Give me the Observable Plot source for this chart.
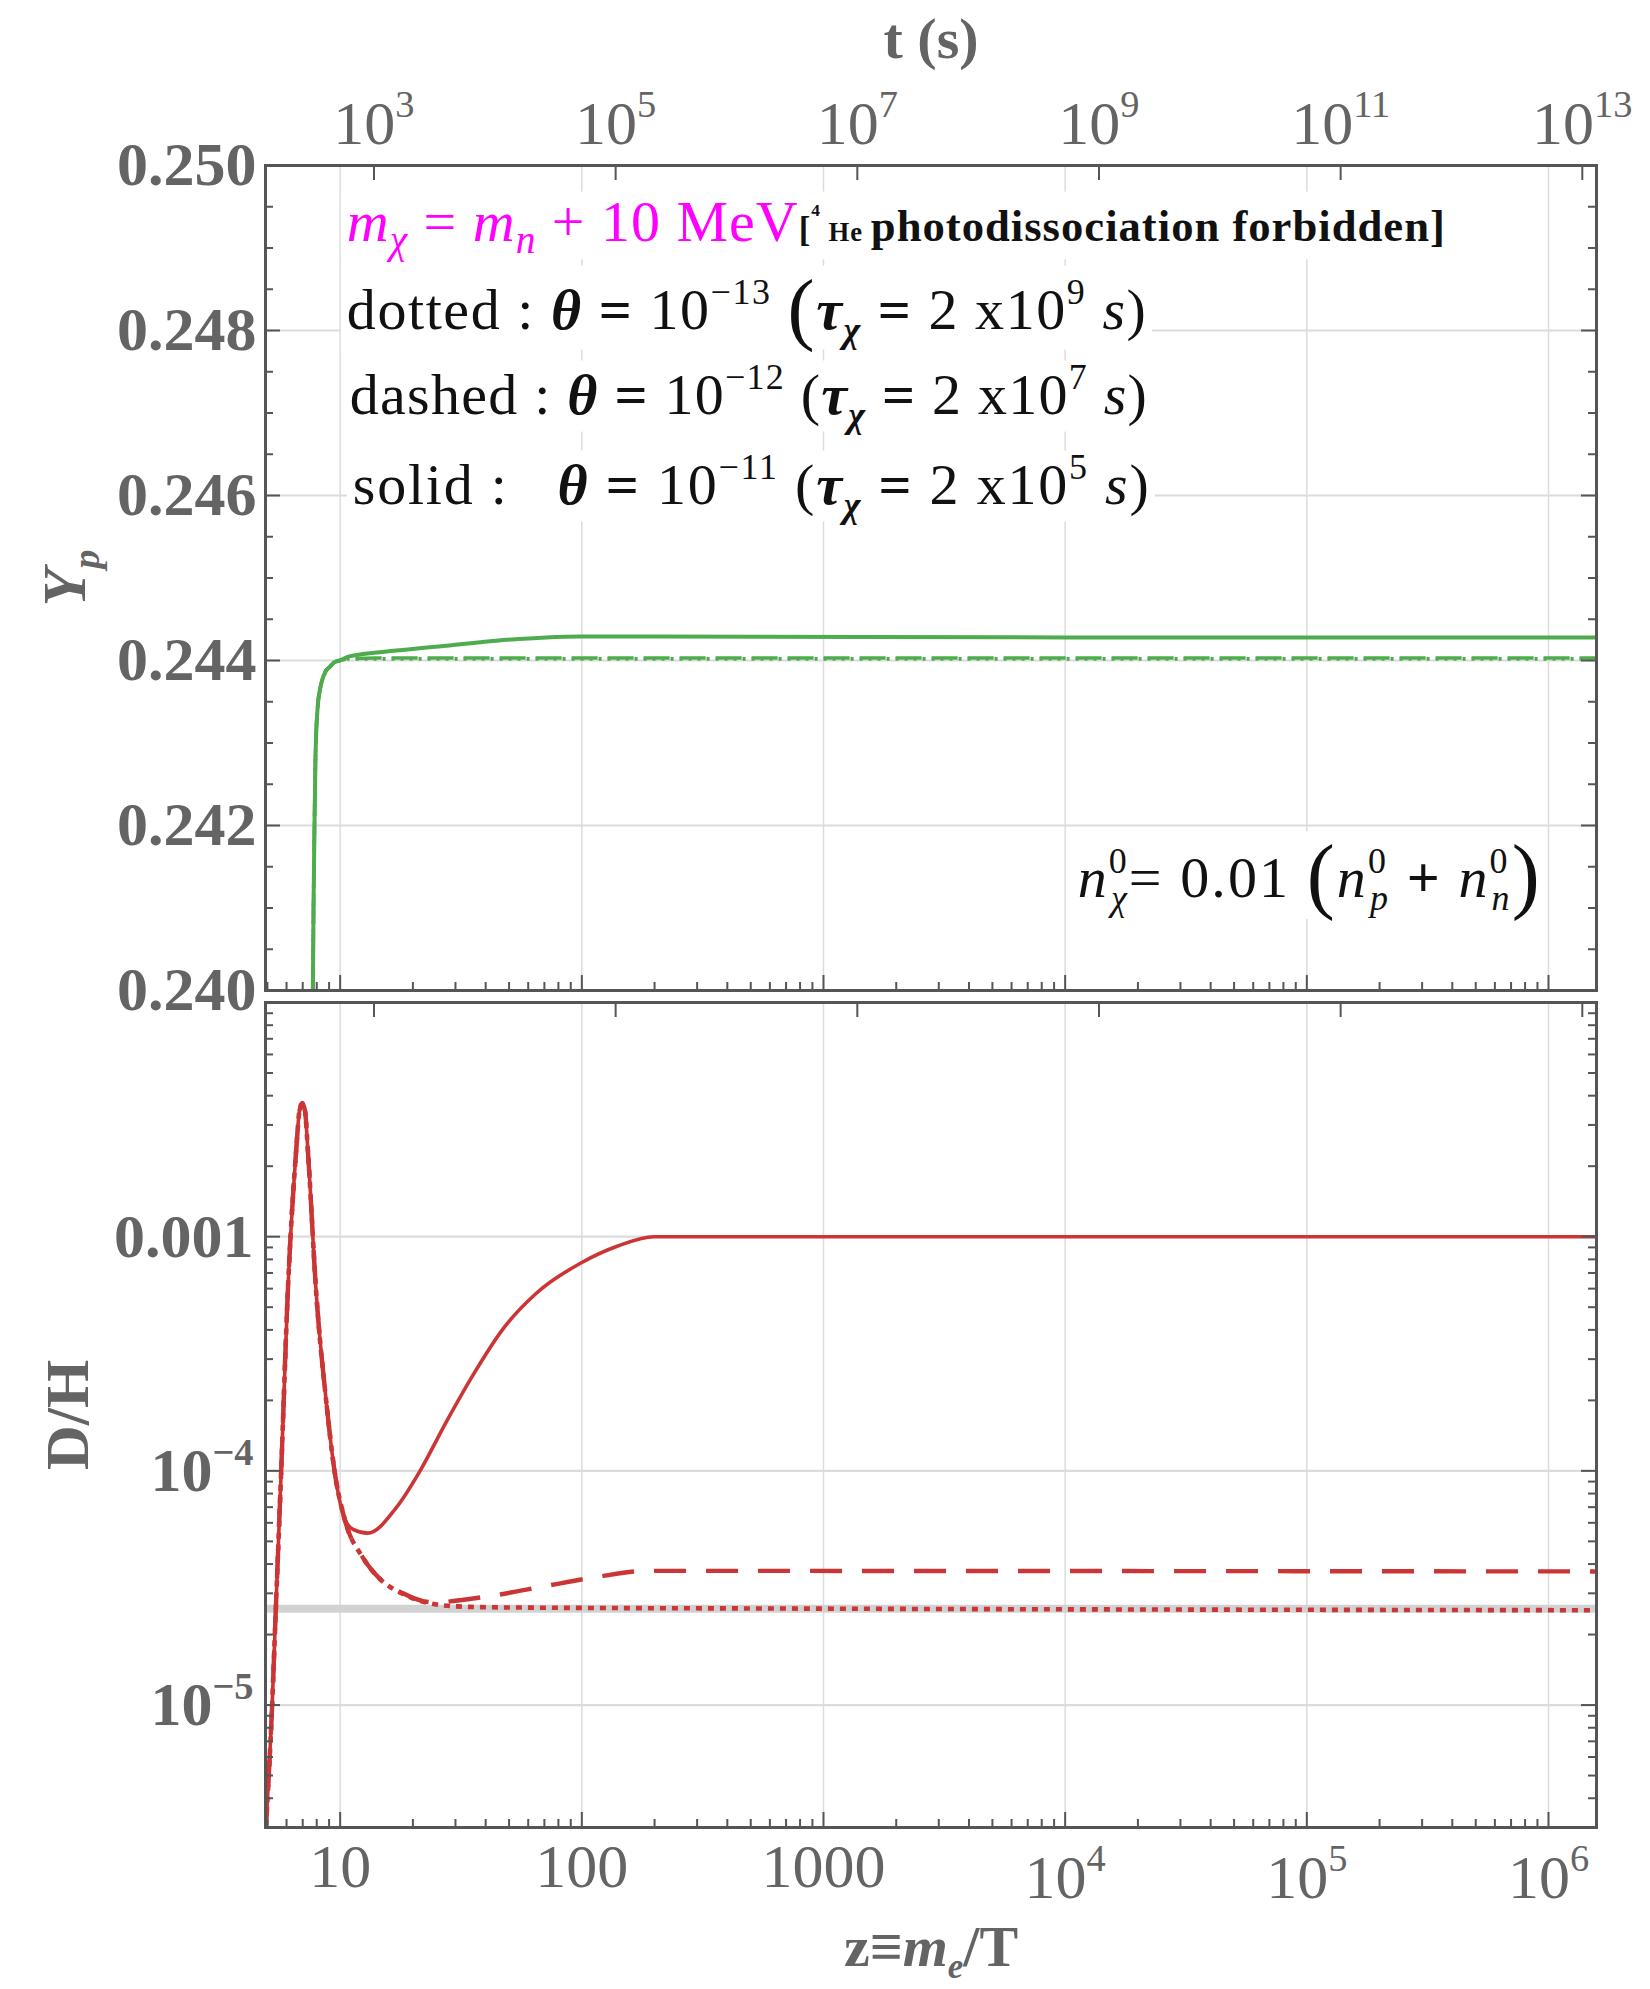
<!DOCTYPE html>
<html>
<head>
<meta charset="utf-8">
<script src="https://cdn.jsdelivr.net/npm/d3@7"></script>
<script src="https://cdn.jsdelivr.net/npm/@observablehq/plot@0.6"></script>
<style>
html, body { margin: 0; padding: 0; background: #fff; }
#fig { position: relative; width: 1650px; height: 1989px; background: #fff; overflow: hidden; }
#fig svg { position: absolute; left: 0; }
</style>
</head>
<body>
<div id="fig"></div>
<script>
// ---------------- data ----------------
// top panel: helium mass fraction Y_p versus z = m_e/T
const zYpSolid = [7.60, 7.71, 7.76, 7.83, 7.91, 8.09, 8.22, 8.35, 8.75, 9.04, 9.48, 9.94, 10.9, 17.1, 27.5, 44.2, 71.1, 99.3, 198, 1.0e4, 1.6e6];
const YpSolid  = [0.2395, 0.24001, 0.24101, 0.24200, 0.24287, 0.24347, 0.24362, 0.24372, 0.24388, 0.24392, 0.24398, 0.24400, 0.24405, 0.24412, 0.24418, 0.24424, 0.24428, 0.24429, 0.24429, 0.24428, 0.24428];
const zYpDashed = [7.60, 7.71, 7.76, 7.83, 7.91, 8.09, 8.22, 8.35, 8.75, 9.04, 9.48, 9.94, 10.9, 14, 1.6e6];
const YpDashed  = [0.2395, 0.24001, 0.24101, 0.24200, 0.24287, 0.24347, 0.24362, 0.24372, 0.24388, 0.24392, 0.24398, 0.24400, 0.24402, 0.24403, 0.24403];
const zYpDotted = [7.60, 7.71, 7.76, 7.83, 7.91, 8.09, 8.22, 8.35, 8.75, 9.04, 9.48, 9.94, 10.9, 14, 1.6e6];
const YpDotted  = [0.2395, 0.24001, 0.24101, 0.24200, 0.24287, 0.24347, 0.24362, 0.24372, 0.24388, 0.24392, 0.24398, 0.24400, 0.24402, 0.24402, 0.24402];

// bottom panel: D/H versus z
const zDHSolid = [4.90, 5.23, 5.42, 5.70, 6.07, 6.58, 6.79, 6.97, 7.15, 7.35, 7.96, 8.75, 9.49, 10.4, 11.3, 13.0, 17.1, 21.3, 27.5, 35.5, 47.3, 65, 100, 140, 199, 1.6e6];
const DHSolid  = [2.7e-6, 1.0e-5, 2.6e-5, 9.9e-5, 5.75e-4, 2.35e-3, 3.46e-3, 3.71e-3, 3.46e-3, 2.35e-3, 5.75e-4, 2.0e-4, 9.9e-5, 6.3e-5, 5.62e-5, 5.42e-5, 6.98e-5, 9.9e-5, 1.62e-4, 2.57e-4, 4.05e-4, 5.75e-4, 7.76e-4, 9.1e-4, 1.0e-3, 1.0e-3];
const zDHDashed = [4.90, 5.23, 5.42, 5.70, 6.07, 6.58, 6.79, 6.97, 7.15, 7.35, 7.96, 8.75, 9.49, 10.4, 12.4, 14.6, 18.2, 22, 25.5, 30, 44.4, 71.6, 115, 186, 1.6e6];
const DHDashed  = [2.7e-6, 1.0e-5, 2.6e-5, 9.9e-5, 5.75e-4, 2.35e-3, 3.46e-3, 3.71e-3, 3.46e-3, 2.35e-3, 5.75e-4, 2.0e-4, 9.9e-5, 6.3e-5, 4.27e-5, 3.46e-5, 3.0e-5, 2.78e-5, 2.74e-5, 2.79e-5, 2.95e-5, 3.23e-5, 3.52e-5, 3.74e-5, 3.72e-5];
const zDHDotted = [4.90, 5.23, 5.42, 5.70, 6.07, 6.58, 6.79, 6.97, 7.15, 7.35, 7.96, 8.75, 9.49, 10.4, 12.4, 14.6, 18.2, 23.5, 32.3, 50, 1000, 1.6e6];
const DHDotted  = [2.7e-6, 1.0e-5, 2.6e-5, 9.9e-5, 5.75e-4, 2.35e-3, 3.46e-3, 3.71e-3, 3.46e-3, 2.35e-3, 5.75e-4, 2.0e-4, 9.9e-5, 6.3e-5, 4.27e-5, 3.46e-5, 2.98e-5, 2.72e-5, 2.63e-5, 2.61e-5, 2.58e-5, 2.54e-5];
const DHObserved = [2.58e-5];

// ticks and labels
const zMajor = [10, 100, 1000, 1e4, 1e5, 1e6];
const zMajorLabels = ["10", "100", "1000", "10^{4}", "10^{5}", "10^{6}"];
const tMajor = [1e3, 1e5, 1e7, 1e9, 1e11, 1e13];
const tMajorLabels = ["10^{3}", "10^{5}", "10^{7}", "10^{9}", "10^{11}", "10^{13}"];
const YpTicks = [0.240, 0.242, 0.244, 0.246, 0.248, 0.250];
const YpTickLabels = ["0.240", "0.242", "0.244", "0.246", "0.248", "0.250"];
const YpGrid = [0.242, 0.244, 0.246, 0.248];
const DHTicks = [1e-3, 1e-4, 1e-5];
const DHTickLabels = ["0.001", "10^{−4}", "10^{−5}"];

// legend text content
const legendNames = ["dotted : ", "dashed : ", "solid :   "];
const thetaExps = ["−13", "−12", "−11"];
const tauExps = ["9", "7", "5"];

// ---------------- styling / layout ----------------
const GREEN = "#4eac4e", RED = "#cc3535", GRAY = "#646464", FRAME = "#555555", GRID = "#dcdcdc", MAG = "#ff00ff", INK = "#111111";
const FONT = "'Liberation Serif', 'Times New Roman', 'DejaVu Serif', serif";
const W = 1650;
const frameLeft = 265, frameRight = 1596;
const top1 = 165, bottom1 = 990, svg1H = 1020;
const svg2Top = 995, top2 = 1002, bottom2 = 1827, svg2H = 1989 - svg2Top;
const zDomain = [4.91, 1.58e6];
const tPerZ2 = 5.25;                       // t (s) ~ 5.25 z^2
const zOfT = t => Math.sqrt(t / tPerZ2);

const zLabelOf = new Map(zMajor.map((z, i) => [z, zMajorLabels[i]]));
const tTicksZ = tMajor.map(zOfT);
const tLabelOf = new Map(tTicksZ.map((z, i) => [z, tMajorLabels[i]]));
const YpLabelOf = new Map(YpTicks.map((v, i) => [v, YpTickLabels[i]]));
const DHLabelOf = new Map(DHTicks.map((v, i) => [v, DHTickLabels[i]]));
const zPlain = zMajor.filter(z => !zLabelOf.get(z).includes("^"));
const zPow = zMajor.filter(z => zLabelOf.get(z).includes("^"));

const zMinor = [];
for (let e = 0; e <= 6; e++) for (let m = 2; m <= 9; m++) { const v = m * 10 ** e; if (v > zDomain[0] && v < zDomain[1]) zMinor.push(v); }
const YpMinor = d3.range(0, 21).map(i => 0.240 + i * 0.0005).filter(v => Math.abs((v - 0.240) / 0.002 - Math.round((v - 0.240) / 0.002)) > 1e-6);
const DHMajorTicks = [1e-5, 1e-4, 1e-3, 1e-2];
const DHMinor = [];
for (let e = -6; e <= -3; e++) for (let m = 2; m <= 9; m++) { const v = m * 10 ** e; if (v > 3e-6 && v < 1e-2) DHMinor.push(v); }

const rows = (zs, vs) => zs.map((z, i) => ({z, v: vs[i]}));

// annotation anchors (data units: z, y-value) and fitted widths
const annoAt = {L1: [10.66, 0.24909], L2: [10.66, 0.24802], L3: [10.97, 0.24699], L4: [11.28, 0.24590], N: [11270, 0.24113]};
const annoFit = {L1: 1098, L2: 799, L3: 797, L4: 796, N: 462};

function thetaLine(name, eTheta, eTau, big) {
  return [
    {t: name}, {t: "θ", b: 1, i: 1}, {t: " = ", b: 1}, {t: "10"}, {t: eTheta, sup: 1}, {t: " "},
    big ? {t: "(", k: 1.4, drop: 0.1} : {t: "("},
    {t: "τ", b: 1, i: 1}, {t: "χ", b: 1, i: 1, sub: 1}, {t: " = ", b: 1}, {t: "2 x10"}, {t: eTau, sup: 1},
    {t: " "}, {t: "s", i: 1}, {t: ")"}
  ];
}
const segsById = {
  L1: [
    {t: "m", i: 1, fill: MAG}, {t: "χ", i: 1, sub: 1, k: 0.68, fill: MAG}, {t: " = ", fill: MAG},
    {t: "m", i: 1, fill: MAG}, {t: "n", i: 1, sub: 1, k: 0.68, fill: MAG}, {t: " + 10 MeV", fill: MAG},
    {t: "[", b: 1, k: 0.6, fill: INK}, {t: "4", b: 1, sup: 1, k: 0.3, fill: INK}, {t: " He ", b: 1, k: 0.46, fill: INK},
    {t: "photodissociation forbidden]", b: 1, k: 0.77, fill: INK}
  ],
  L2: thetaLine(legendNames[0], thetaExps[0], tauExps[0], true),
  L3: thetaLine(legendNames[1], thetaExps[1], tauExps[1], false),
  L4: thetaLine(legendNames[2], thetaExps[2], tauExps[2], false),
  N: [
    {t: "n", i: 1}, {t: "0", sup: 1, stack: 1}, {t: "χ", i: 1, sub: 1}, {t: "= 0.01 "},
    {t: "(", k: 1.45, drop: 0.1}, {t: "n", i: 1}, {t: "0", sup: 1, stack: 1}, {t: "p", i: 1, sub: 1},
    {t: " + ", b: 1}, {t: "n", i: 1}, {t: "0", sup: 1, stack: 1}, {t: "n", i: 1, sub: 1}, {t: ")", k: 1.45, drop: 0.1}
  ],
  YP: [{t: "Y", i: 1, b: 1}, {t: "p", i: 1, b: 1, sub: 1}],
  ZL: [{t: "z≡", b: 1}, {t: "m", i: 1, b: 1}, {t: "e", i: 1, b: 1, sub: 1, k: 0.6}, {t: "/T", b: 1}]
};

// ---------------- helpers ----------------
function edgeTicks(H, Wd, yMajor, yMinor) {
  const s = {stroke: FRAME, strokeWidth: 2};
  return [
    Plot.tickX(zMajor, {...s, insetTop: H - 15}),
    Plot.tickX(zMinor, {...s, insetTop: H - 8}),
    Plot.tickX(tTicksZ, {...s, insetBottom: H - 15}),
    Plot.tickY(yMajor, {...s, insetRight: Wd - 15}),
    Plot.tickY(yMinor, {...s, insetRight: Wd - 8}),
    Plot.tickY(yMajor, {...s, insetLeft: Wd - 15}),
    Plot.tickY(yMinor, {...s, insetLeft: Wd - 8})
  ];
}
const lineOpts = (stroke, width, dash) => ({x: "z", y: "v", stroke, strokeWidth: width, curve: "monotone-x", clip: true,
  ...(dash ? {strokeDasharray: dash, strokeLinecap: "butt"} : {})});

const Wd = frameRight - frameLeft;
const H1 = bottom1 - top1, H2 = bottom2 - top2;

const plotTop = Plot.plot({
  width: W, height: svg1H,
  marginLeft: frameLeft, marginRight: W - frameRight, marginTop: top1, marginBottom: svg1H - bottom1,
  x: {type: "log", domain: zDomain, axis: null},
  y: {domain: [0.240, 0.250], axis: null},
  style: {fontFamily: FONT, background: "transparent", color: GRAY},
  marks: [
    Plot.ruleX(zMajor, {stroke: GRID, strokeWidth: 1.5}),
    Plot.ruleY(YpGrid, {stroke: GRID, strokeWidth: 2.2}),
    Plot.line(rows(zYpDotted, YpDotted), lineOpts(GREEN, 3.6, "3,6")),
    Plot.line(rows(zYpDashed, YpDashed), lineOpts(GREEN, 3.6, "26,10")),
    Plot.line(rows(zYpSolid, YpSolid), lineOpts(GREEN, 4)),
    ...edgeTicks(H1, Wd, YpTicks, YpMinor),
    Plot.frame({stroke: FRAME, strokeWidth: 3}),
    Plot.axisY(YpTicks, {anchor: "left", tickSize: 0, tickPadding: 9, tickFormat: d => YpLabelOf.get(d), fontSize: 62, fontWeight: "bold", fontFamily: FONT, color: GRAY, label: null}),
    Plot.axisX(tTicksZ, {anchor: "top", tickSize: 0, tickPadding: 22, tickFormat: z => tLabelOf.get(z), fontSize: 62, fontFamily: FONT, color: GRAY, label: null}),
    Plot.text(["t (s)"], {text: d => d, frameAnchor: "top", dy: -108, lineAnchor: "bottom", fontSize: 58, fontWeight: "bold", fontFamily: FONT, fill: GRAY}),
    Plot.text(["YP"], {text: d => d, frameAnchor: "left", textAnchor: "middle", dx: -200, rotate: -90, fontSize: 62, fontFamily: FONT, fill: GRAY}),
    Plot.text(["L1", "L2", "L3", "L4", "N"], {x: id => annoAt[id][0], y: id => annoAt[id][1], text: d => d, textAnchor: "start", lineAnchor: "bottom", fontSize: 58, fontFamily: FONT, fill: INK})
  ]
});

const plotBottom = Plot.plot({
  width: W, height: svg2H,
  marginLeft: frameLeft, marginRight: W - frameRight, marginTop: top2 - svg2Top, marginBottom: 1989 - bottom2,
  x: {type: "log", domain: zDomain, axis: null},
  y: {type: "log", domain: [3e-6, 1e-2], axis: null},
  style: {fontFamily: FONT, background: "transparent", color: GRAY},
  marks: [
    Plot.ruleX(zMajor, {stroke: GRID, strokeWidth: 1.5}),
    Plot.ruleY(DHTicks, {stroke: GRID, strokeWidth: 2.2}),
    Plot.ruleY(DHObserved, {stroke: "#d2d2d2", strokeWidth: 8}),
    Plot.line(rows(zDHDotted, DHDotted), lineOpts(RED, 4.6, "6,6")),
    Plot.line(rows(zDHDashed, DHDashed), lineOpts(RED, 4.4, "32,20")),
    Plot.line(rows(zDHSolid, DHSolid), lineOpts(RED, 3.6)),
    ...edgeTicks(H2, Wd, DHMajorTicks, DHMinor),
    Plot.frame({stroke: FRAME, strokeWidth: 3}),
    Plot.axisY(DHTicks, {anchor: "left", tickSize: 0, tickPadding: 12, tickFormat: d => DHLabelOf.get(d), fontSize: 62, fontWeight: "bold", fontFamily: FONT, color: GRAY, label: null}),
    Plot.axisX(zPlain, {anchor: "bottom", tickSize: 0, tickPadding: 15, tickFormat: z => zLabelOf.get(z), fontSize: 62, fontFamily: FONT, color: GRAY, label: null}),
    Plot.axisX(zPow, {anchor: "bottom", tickSize: 0, tickPadding: 26, tickFormat: z => zLabelOf.get(z), fontSize: 62, fontFamily: FONT, color: GRAY, label: null}),
    Plot.text(["D/H"], {text: d => d, frameAnchor: "left", textAnchor: "middle", dx: -197, rotate: -90, fontSize: 62, fontWeight: "bold", fontFamily: FONT, fill: GRAY}),
    Plot.text(["ZL"], {text: d => d, frameAnchor: "bottom", dy: 138, lineAnchor: "bottom", fontSize: 58, fontFamily: FONT, fill: GRAY})
  ]
});

const fig = document.getElementById("fig");
plotTop.style.top = "0px";
plotBottom.style.top = svg2Top + "px";
fig.appendChild(plotTop);
fig.appendChild(plotBottom);

// ---------------- rich text (sub/superscripts) ----------------
const NS = "http://www.w3.org/2000/svg";
function parseScripts(str) {
  const segs = [], re = /([\^_])\{([^}]*)\}/g;
  let last = 0, m;
  while ((m = re.exec(str))) {
    if (m.index > last) segs.push({t: str.slice(last, m.index)});
    segs.push(m[1] === "^" ? {t: m[2], sup: 1} : {t: m[2], sub: 1});
    last = re.lastIndex;
  }
  if (last < str.length) segs.push({t: str.slice(last)});
  return segs;
}
function typeset(el, segs) {
  const base = parseFloat(getComputedStyle(el).fontSize) || 58;
  el.textContent = "";
  let cur = 0, pend = 0;
  for (const s of segs) {
    const ts = document.createElementNS(NS, "tspan");
    const scr = s.sup || s.sub;
    const size = base * (s.k ?? (scr ? 0.62 : 1));
    const target = ((s.sup ? -0.42 : s.sub ? 0.22 : 0) + (s.drop || 0)) * base;
    const dy = target - cur; cur = target;
    if (Math.abs(dy) > 0.01) ts.setAttribute("dy", dy.toFixed(2));
    const dx = (s.dx || 0) * base + pend; pend = 0;
    if (dx) ts.setAttribute("dx", dx.toFixed(2));
    ts.setAttribute("font-size", size.toFixed(2));
    if (s.i) ts.setAttribute("font-style", "italic");
    if (s.b) ts.setAttribute("font-weight", "bold");
    if (s.fill) ts.setAttribute("fill", s.fill);
    ts.textContent = s.t;
    el.appendChild(ts);
    if (s.stack) pend = -ts.getComputedTextLength();
  }
}
for (const svg of [plotTop, plotBottom]) {
  svg.querySelectorAll("text").forEach(el => {
    const c = el.textContent;
    if (segsById[c]) {
      typeset(el, segsById[c]);
      if (annoFit[c]) {
        el.setAttribute("textLength", annoFit[c]);
        el.setAttribute("lengthAdjust", "spacing");
        const bb = el.getBBox();
        const r = document.createElementNS(NS, "rect");
        r.setAttribute("x", bb.x - 6); r.setAttribute("y", bb.y + 3);
        r.setAttribute("width", bb.width + 12); r.setAttribute("height", Math.max(0, bb.height - 6));
        r.setAttribute("fill", "#ffffff");
        const tr = el.getAttribute("transform");
        if (tr) r.setAttribute("transform", tr);
        el.parentNode.insertBefore(r, el);
      }
    } else if (/[\^_]\{/.test(c)) {
      typeset(el, parseScripts(c));
    }
  });
}
</script>
</body>
</html>
